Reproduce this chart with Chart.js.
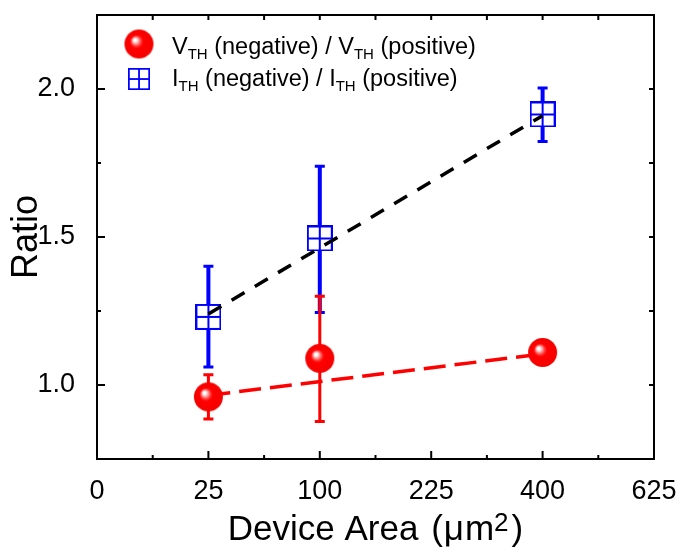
<!DOCTYPE html>
<html>
<head>
<meta charset="utf-8">
<script src="https://cdn.jsdelivr.net/npm/chart.js@4.4.0/dist/chart.umd.min.js"></script>
<style>
  html, body { margin: 0; padding: 0; background: #fff; }
</style>
</head>
<body>
<canvas id="chart" width="683" height="552"></canvas>
<script>
const FONT = "'Liberation Sans', Arial, sans-serif";

// device area (um^2); the x axis is drawn on a sqrt(area) scale
const areas = [25, 100, 400];

// V_TH(neg)/V_TH(pos)
const vthRatio = [0.96, 1.09, 1.11];
const vthLow = [0.885, 0.877, 1.10];
const vthHigh = [1.035, 1.30, 1.12];

// I_TH(neg)/I_TH(pos)
const ithRatio = [1.23, 1.495, 1.914];
const ithLow = [1.061, 1.245, 1.823];
const ithHigh = [1.401, 1.739, 2.003];

// dashed linear fits (end points)
const fitAreas = [25, 400];
const vthFit = [0.965, 1.105];
const ithFit = [1.24, 1.91];

// axes
const xTickAreas = [0, 25, 100, 225, 400, 625];
const xMinorAreas = [6.25, 56.25, 156.25, 306.25, 506.25];
const yTicks = [1.0, 1.5, 2.0];
const yMinor = [1.25, 1.75];

const pts = (xs, ys) => xs.map((a, i) => ({ x: Math.sqrt(a), y: ys[i] }));

function makeSphere(r) {
  const c = document.createElement('canvas');
  const s = Math.ceil(r * 2) + 2;
  c.width = c.height = s;
  const g = c.getContext('2d');
  const cx = s / 2, cy = s / 2;
  const grad = g.createRadialGradient(cx - r * 0.3, cy - r * 0.3, 0, cx, cy, r);
  grad.addColorStop(0, '#ffffff');
  grad.addColorStop(0.09, '#ffffff');
  grad.addColorStop(0.22, '#ffa0a0');
  grad.addColorStop(0.36, '#ff3030');
  grad.addColorStop(0.47, '#ff0000');
  grad.addColorStop(1, '#f50000');
  g.fillStyle = grad;
  g.beginPath();
  g.arc(cx, cy, r, 0, Math.PI * 2);
  g.fill();
  return c;
}

function makeBoxCross(size) {
  const c = document.createElement('canvas');
  c.width = c.height = size;
  const g = c.getContext('2d');
  g.fillStyle = '#fff';
  g.fillRect(1, 1, size - 2, size - 2);
  g.strokeStyle = '#0000ff';
  g.lineWidth = 2;
  g.strokeRect(1, 1, size - 2, size - 2);
  g.beginPath();
  g.moveTo(size / 2, 1); g.lineTo(size / 2, size - 1);
  g.moveTo(1, size / 2); g.lineTo(size - 1, size / 2);
  g.stroke();
  return c;
}

const sphere = makeSphere(14.5);
const boxCross = makeBoxCross(26);

const errorBars = {
  id: 'errorBars',
  beforeDatasetsDraw(chart) {
    const { ctx, scales: { x, y } } = chart;
    chart.data.datasets.forEach(ds => {
      if (!ds.errLow) return;
      ctx.save();
      ctx.strokeStyle = ds.errColor;
      ds.data.forEach((p, i) => {
        const px = x.getPixelForValue(p.x);
        const yl = y.getPixelForValue(ds.errLow[i]);
        const yh = y.getPixelForValue(ds.errHigh[i]);
        ctx.lineWidth = ds.errWidth;
        ctx.beginPath();
        ctx.moveTo(px, yl); ctx.lineTo(px, yh);
        ctx.stroke();
        ctx.lineWidth = 3;
        ctx.beginPath();
        ctx.moveTo(px - 5, yl); ctx.lineTo(px + 5, yl);
        ctx.moveTo(px - 5, yh); ctx.lineTo(px + 5, yh);
        ctx.stroke();
      });
      ctx.restore();
    });
  }
};

const frameAndText = {
  id: 'frameAndText',
  afterDraw(chart) {
    const { ctx, chartArea: a, scales: { x, y } } = chart;
    ctx.save();
    ctx.strokeStyle = '#000';
    ctx.lineWidth = 2;
    ctx.strokeRect(a.left, a.top, a.right - a.left, a.bottom - a.top);

    // inward ticks
    ctx.beginPath();
    xTickAreas.forEach(v => {
      const px = x.getPixelForValue(Math.sqrt(v));
      ctx.moveTo(px, a.bottom); ctx.lineTo(px, a.bottom - 8);
      ctx.moveTo(px, a.top); ctx.lineTo(px, a.top + 5);
    });
    xMinorAreas.forEach(v => {
      const px = x.getPixelForValue(Math.sqrt(v));
      ctx.moveTo(px, a.bottom); ctx.lineTo(px, a.bottom - 4);
      ctx.moveTo(px, a.top); ctx.lineTo(px, a.top + 5);
    });
    yTicks.forEach(v => {
      const py = y.getPixelForValue(v);
      ctx.moveTo(a.left, py); ctx.lineTo(a.left + 8, py);
      ctx.moveTo(a.right, py); ctx.lineTo(a.right - 5, py);
    });
    yMinor.forEach(v => {
      const py = y.getPixelForValue(v);
      ctx.moveTo(a.left, py); ctx.lineTo(a.left + 4, py);
      ctx.moveTo(a.right, py); ctx.lineTo(a.right - 5, py);
    });
    ctx.stroke();

    // x axis title with superscript, laid out piece by piece
    ctx.fillStyle = '#000';
    ctx.textBaseline = 'alphabetic';
    const main = '35px ' + FONT, sup = '26px ' + FONT;
    const parts = [
      ['Device Area ', main, 0, 3],
      ['(', main, 0, 1],
      ['\u03bc', main, 0, 1],
      ['m', main, 0, 0],
      ['2', sup, -9, 3],
      [')', main, 0, 0]
    ];
    let total = 0;
    parts.forEach(p => { ctx.font = p[1]; p.push(ctx.measureText(p[0]).width); total += p[4] + p[3]; });
    let tx = (a.left + a.right) / 2 - total / 2;
    parts.forEach(p => {
      ctx.font = p[1];
      ctx.fillText(p[0], tx, 540 + p[2]);
      tx += p[4] + p[3];
    });

    // legend
    ctx.drawImage(sphere, 139 - sphere.width / 2, 44 - sphere.height / 2);
    ctx.drawImage(boxCross, 139 - 11, 79 - 11, 22, 22);
    const big = '23.5px ' + FONT, small = '15px ' + FONT;
    const rows = [
      [['V', 0], ['TH', 1], [' (negative) / V', 0], ['TH', 1], [' (positive)', 0]],
      [['I', 0], ['TH', 1], [' (negative) / I', 0], ['TH', 1], [' (positive)', 0]]
    ];
    const baselines = [54, 86];
    rows.forEach((row, r) => {
      let lx = 172;
      row.forEach(([s, isSub]) => {
        ctx.font = isSub ? small : big;
        ctx.fillText(s, lx, baselines[r] + (isSub ? 5 : 0));
        lx += ctx.measureText(s).width;
      });
    });
    ctx.restore();
  }
};

new Chart(document.getElementById('chart'), {
  type: 'scatter',
  data: {
    datasets: [
      {
        label: 'ITH fit',
        type: 'line',
        data: pts(fitAreas, ithFit),
        borderColor: '#000',
        borderWidth: 3.5,
        borderDash: [15, 12],
        pointRadius: 0,
        fill: false,
        order: 0
      },
      {
        label: 'ITH (negative) / ITH (positive)',
        data: pts(areas, ithRatio),
        pointStyle: boxCross,
        pointRadius: 13,
        errLow: ithLow,
        errHigh: ithHigh,
        errColor: '#0000ff',
        errWidth: 4,
        order: 1
      },
      {
        label: 'VTH (negative) / VTH (positive)',
        data: pts(areas, vthRatio),
        pointStyle: sphere,
        pointRadius: 14,
        errLow: vthLow,
        errHigh: vthHigh,
        errColor: '#ff0000',
        errWidth: 3,
        order: 2
      },
      {
        label: 'VTH fit',
        type: 'line',
        data: pts(fitAreas, vthFit),
        borderColor: '#ff0000',
        borderWidth: 3.5,
        borderDash: [22, 9],
        pointRadius: 0,
        fill: false,
        order: 3
      }
    ]
  },
  options: {
    responsive: false,
    animation: false,
    devicePixelRatio: 1,
    layout: { padding: { top: 7, right: 29, left: 0, bottom: 0 } },
    plugins: { legend: { display: false }, tooltip: { enabled: false } },
    scales: {
      x: {
        type: 'linear',
        min: 0,
        max: 25,
        afterFit(scale) { scale.height = 93; scale.paddingLeft = 0; scale.paddingRight = 0; },
        afterBuildTicks(scale) { scale.ticks = xTickAreas.map(v => ({ value: Math.sqrt(v) })); },
        grid: { display: false },
        border: { display: false },
        ticks: {
          color: '#000',
          padding: 8,
          font: { family: FONT, size: 27 },
          callback: v => String(Math.round(v * v))
        }
      },
      y: {
        min: 0.75,
        max: 2.25,
        afterFit(scale) { scale.width = 97; scale.paddingTop = 0; scale.paddingBottom = 0; },
        afterBuildTicks(scale) { scale.ticks = yTicks.map(v => ({ value: v })); },
        grid: { display: false },
        border: { display: false },
        ticks: {
          color: '#000',
          padding: 14,
          font: { family: FONT, size: 27 },
          callback: v => v.toFixed(1)
        },
        title: {
          display: true,
          text: 'Ratio',
          color: '#000',
          font: { family: FONT, size: 36 },
          padding: { top: 5, bottom: 0 }
        }
      }
    }
  },
  plugins: [errorBars, frameAndText]
});
</script>
</body>
</html>
